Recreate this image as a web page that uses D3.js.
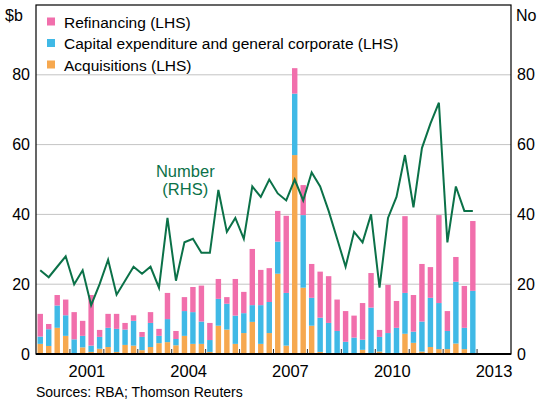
<!DOCTYPE html>
<html lang="en">
<head>
    <meta charset="UTF-8">
    <title>Syndicated loans by purpose</title>
    <script src="https://d3js.org/d3.v7.min.js"></script>
    <style>
        body { margin: 0; background: #fff; }
        svg { display: block; font-family: Arial, 'Liberation Sans', sans-serif; }
    </style>
</head>
<body>
    <svg id="chart" width="549" height="402"></svg>

    <script>
        // quarters, 2000 Q1 to 2012 Q4
        const quarters = [
            "2000Q1","2000Q2","2000Q3","2000Q4","2001Q1","2001Q2","2001Q3","2001Q4",
            "2002Q1","2002Q2","2002Q3","2002Q4","2003Q1","2003Q2","2003Q3","2003Q4",
            "2004Q1","2004Q2","2004Q3","2004Q4","2005Q1","2005Q2","2005Q3","2005Q4",
            "2006Q1","2006Q2","2006Q3","2006Q4","2007Q1","2007Q2","2007Q3","2007Q4",
            "2008Q1","2008Q2","2008Q3","2008Q4","2009Q1","2009Q2","2009Q3","2009Q4",
            "2010Q1","2010Q2","2010Q3","2010Q4","2011Q1","2011Q2","2011Q3","2011Q4",
            "2012Q1","2012Q2","2012Q3","2012Q4"
        ];

        // $b
        const acquisitions = [
            2.9, 2.3, 7.5, 5.2, 0.0, 1.9, 0.6, 1.5, 2.0, 0.6, 2.6, 2.4, 1.1,
            2.0, 3.1, 3.4, 2.5, 5.2, 2.9, 2.9, 0.6, 8.1, 7.0, 2.9, 6.0, 9.2,
            2.9, 6.0, 23.0, 2.4, 57.0, 19.0, 8.1, 0.6, 0.3, 0.3, 0.0, 0.0, 1.2,
            0.3, 0.7, 0.3, 0.3, 5.8, 3.2, 0.7, 2.0, 1.4, 1.4, 3.0, 1.4, 0.0
        ];
        const capex = [
            2.1, 4.8, 6.4, 5.9, 4.2, 3.3, 1.8, 3.4, 5.5, 6.6, 4.4, 7.1, 3.8,
            6.9, 2.1, 6.6, 1.8, 7.1, 9.1, 6.4, 3.4, 7.7, 7.4, 8.1, 5.7, 4.8,
            11.1, 8.9, 9.2, 15.1, 17.6, 20.8, 8.0, 9.8, 8.6, 6.3, 3.5, 4.7, 2.9,
            13.0, 4.2, 5.7, 7.2, 11.7, 3.2, 8.6, 14.1, 13.2, 5.2, 17.7, 6.1, 18.1
        ];
        const refinancing = [
            6.5, 1.5, 3.0, 4.5, 7.8, 4.3, 14.5, 2.0, 4.0, 4.3, 1.9, 1.6, 1.4,
            3.1, 2.0, 7.5, 2.3, 4.0, 7.2, 10.3, 4.9, 5.7, 1.9, 10.5, 6.1, 16.1,
            10.1, 9.7, 8.8, 22.1, 7.3, 8.6, 9.7, 13.2, 13.4, 9.0, 8.8, 6.3, 10.5,
            9.9, 2.0, 13.8, 7.7, 22.0, 10.5, 16.5, 8.8, 25.2, 5.7, 7.1, 12.0, 20.0
        ];

        // Number of loans (RHS)
        const number = [
            24, 22, 25, 28, 20, 24, 14, 20, 27, 17, 21, 25, 23,
            25, 19, 39, 21, 32, 33, 29, 29, 47, 35, 39, 33, 48,
            45, 50, 46, 44, 50, 44, 52, 48, 41, 33, 25, 35, 32,
            40, 19, 39, 45, 57, 42, 59, 66, 72, 32, 48, 41, 41
        ];

        const yTicks = [0, 20, 40, 60, 80];
        const yearTicks = [2001, 2002, 2003, 2004, 2005, 2006, 2007, 2008, 2009, 2010, 2011, 2012, 2013];
        const yearLabels = [2001, 2004, 2007, 2010, 2013];

        const series = [
            { key: "acquisitions", name: "Acquisitions (LHS)", color: "#f6a84f" },
            { key: "capex", name: "Capital expenditure and general corporate (LHS)", color: "#40b9e6" },
            { key: "refinancing", name: "Refinancing (LHS)", color: "#f16fac" }
        ];
        const lineColor = "#0b7148";

        const rows = quarters.map((q, i) => ({
            t: +q.slice(0, 4) + (+q.slice(5) - 1) / 4,
            acquisitions: acquisitions[i],
            capex: capex[i],
            refinancing: refinancing[i],
            number: number[i]
        }));

        const width = 549, height = 402;
        const margin = { top: 5, right: 38, bottom: 48, left: 36 };
        const innerW = width - margin.left - margin.right;
        const innerH = height - margin.top - margin.bottom;

        const svg = d3.select("#chart");
        const g = svg.append("g").attr("transform", `translate(${margin.left},${margin.top})`);

        const x = d3.scaleLinear().domain([2000, 2014]).range([0, innerW]);
        const y = d3.scaleLinear().domain([0, 100]).range([innerH, 0]);
        const yR = d3.scaleLinear().domain([0, 100]).range([innerH, 0]);
        const qW = x(2000.25) - x(2000);
        const barW = qW * 0.64;

        // gridlines
        g.selectAll(".grid").data(yTicks.filter(d => d > 0)).enter().append("line")
            .attr("x1", 0).attr("x2", innerW)
            .attr("y1", d => y(d)).attr("y2", d => y(d))
            .attr("stroke", "#c4c4c4").attr("stroke-width", 1);

        // stacked bars
        const stack = d3.stack().keys(series.map(s => s.key));
        const layers = stack(rows);
        layers.forEach((layer, li) => {
            g.append("g").attr("fill", series[li].color)
                .selectAll("rect").data(layer).enter().append("rect")
                .attr("x", d => x(d.data.t + 0.125) - barW / 2)
                .attr("width", barW)
                .attr("y", d => y(d[1]))
                .attr("height", d => Math.max(0, y(d[0]) - y(d[1])));
        });

        // year ticks
        g.selectAll(".ytick").data(yearTicks).enter().append("line")
            .attr("x1", d => x(d)).attr("x2", d => x(d))
            .attr("y1", innerH).attr("y2", innerH - 5)
            .attr("stroke", "#333").attr("stroke-width", 1);

        // number line
        const line = d3.line()
            .x(d => x(d.t + 0.125))
            .y(d => yR(d.number));
        g.append("path").datum(rows)
            .attr("d", line)
            .attr("fill", "none")
            .attr("stroke", lineColor)
            .attr("stroke-width", 2)
            .attr("stroke-linejoin", "miter");

        // frame
        g.append("rect").attr("x", 0).attr("y", 0)
            .attr("width", innerW).attr("height", innerH)
            .attr("fill", "none").attr("stroke", "#000").attr("stroke-width", 1.2);
        g.append("line").attr("x1", 0).attr("x2", innerW)
            .attr("y1", innerH).attr("y2", innerH)
            .attr("stroke", "#000").attr("stroke-width", 2);

        // axes labels
        const leftAxis = d3.axisLeft(y).tickValues(yTicks).tickSize(0).tickPadding(6);
        g.append("g").call(leftAxis)
            .call(a => a.select(".domain").remove())
            .selectAll("text").attr("font-size", 16).attr("fill", "#000")
            .attr("font-family", "Arial, 'Liberation Sans', sans-serif");

        const rightAxis = d3.axisRight(yR).tickValues(yTicks).tickSize(0).tickPadding(6);
        g.append("g").attr("transform", `translate(${innerW},0)`).call(rightAxis)
            .call(a => a.select(".domain").remove())
            .selectAll("text").attr("font-size", 16).attr("fill", "#000")
            .attr("font-family", "Arial, 'Liberation Sans', sans-serif");

        g.selectAll(".yearlab").data(yearLabels).enter().append("text")
            .attr("x", d => x(d + 0.5))
            .attr("y", innerH + 23)
            .attr("text-anchor", "middle")
            .attr("font-size", 16.5)
            .text(d => d);

        svg.append("text").attr("x", 5).attr("y", 21).attr("font-size", 16).text("$b");
        svg.append("text").attr("x", 516).attr("y", 21).attr("font-size", 16).text("No");

        // legend
        const legend = svg.append("g").attr("transform", "translate(47,0)");
        const legendItems = series.slice().reverse();
        legendItems.forEach((s, i) => {
            const ly = 22 + i * 21.5;
            legend.append("rect").attr("x", 0).attr("y", ly - 4.5).attr("width", 8).attr("height", 8)
                .attr("fill", s.color);
            legend.append("text").attr("x", 17).attr("y", ly + 5.5)
                .attr("font-size", 15.5).text(s.name);
        });

        // line label, two separate lines
        const labX = x(2004.4);
        g.append("text").attr("x", labX).attr("y", 172)
            .attr("fill", lineColor).attr("text-anchor", "middle").attr("font-size", 16.5)
            .text("Number");
        g.append("text").attr("x", labX).attr("y", 190)
            .attr("fill", lineColor).attr("text-anchor", "middle").attr("font-size", 16.5)
            .text("(RHS)");

        svg.append("text").attr("x", 36).attr("y", 397).attr("font-size", 14).text("Sources: RBA; Thomson Reuters");
    </script>
</body>
</html>
